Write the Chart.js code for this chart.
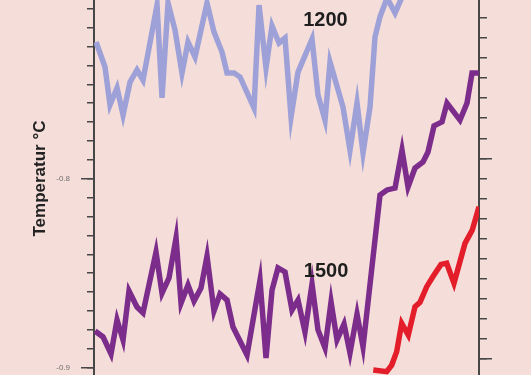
<!DOCTYPE html>
<html>
<head>
<meta charset="utf-8">
<script src="https://cdn.jsdelivr.net/npm/chart.js@4"></script>
<style>
  html, body { margin: 0; padding: 0; width: 531px; height: 375px; overflow: hidden; background: #f5ded9; }
  /* the picture is a crop of a taller chart, so the canvas runs a little past the top edge */
  #wrap { position: absolute; left: 0; top: -18px; width: 531px; height: 393px; }
</style>
</head>
<body>
<div id="wrap"><canvas id="chart"></canvas></div>
<script>
//series "1200" (light violet)
const x1200 = [0.16, 1.56, 2.34, 3.44, 4.38, 5.47, 6.56, 7.5, 9.69, 10.47, 11.41, 12.5, 13.59, 14.53, 15.63,
  17.5, 18.59, 19.84, 20.63, 21.72, 22.66, 24.84, 25.63, 26.72, 27.66, 28.75, 29.69, 30.63, 31.72, 33.91,
  34.84, 35.94, 36.72, 38.75, 39.84, 40.94, 41.88, 42.97, 43.75, 44.53, 45.63, 46.88, 47.97, 49.06];
const temp1200 = [-0.7276, -0.7408, -0.7609, -0.7519, -0.7662, -0.7488, -0.7424, -0.7477, -0.7080, -0.7572,
  -0.7069, -0.7212, -0.7440, -0.7276, -0.7355, -0.7069, -0.7223, -0.7329, -0.7440, -0.7440, -0.7461,
  -0.7625, -0.7080, -0.7413, -0.7191, -0.7281, -0.7255, -0.7673, -0.7435, -0.7260, -0.7556, -0.7689,
  -0.7382, -0.7620, -0.7848, -0.7599, -0.7863, -0.7620, -0.7249, -0.7143, -0.7043, -0.7122, -0.7038, -0.7011];

//series "1500" (purple)
const x1500 = [0, 1.25, 2.5, 3.44, 4.38, 5.31, 6.56, 7.5, 9.53, 10.47, 11.56, 12.66, 13.44, 14.53, 15.47,
  16.56, 17.5, 18.59, 19.53, 20.63, 21.56, 23.75, 25.78, 26.72, 27.66, 28.59, 29.69, 30.78, 31.72, 32.81,
  33.91, 34.84, 35.94, 36.88, 37.81, 38.91, 39.84, 40.94, 41.88, 44.53, 45.63, 46.88, 47.97, 48.91, 50.0,
  51.25, 52.03, 52.97, 54.22, 55.0, 57.03, 58.13, 58.91, 60];
const temp1500 = [-0.8806, -0.8837, -0.8927, -0.8747, -0.8853, -0.8594, -0.8679, -0.8710, -0.8388, -0.8605,
  -0.8525, -0.8313, -0.8658, -0.8562, -0.8647, -0.8578, -0.8409, -0.8700, -0.8610, -0.8642, -0.8785,
  -0.8933, -0.8536, -0.8949, -0.8589, -0.8472, -0.8493, -0.8695, -0.8642, -0.8811, -0.8557, -0.8800,
  -0.8896, -0.8652, -0.8853, -0.8769, -0.8922, -0.8716, -0.8890, -0.8086, -0.8059, -0.8049, -0.7848,
  -0.8043, -0.7943, -0.7911, -0.7858, -0.7720, -0.7699, -0.7599, -0.7689, -0.7599, -0.7440, -0.7440];

//red series
const xRed = [43.48, 45.58, 46.36, 47.14, 47.92, 48.95, 50.0, 50.78, 51.83, 52.86, 54.06, 54.95, 56.09,
  57.81, 58.95, 60];
const tempRed = [-0.9012, -0.9021, -0.8986, -0.8915, -0.8765, -0.8827, -0.8677, -0.8654, -0.8571, -0.8515,
  -0.8453, -0.8447, -0.8553, -0.8342, -0.8271, -0.8148];

//text written inside the plot
const labelText = ['1200', '1500'];
const labelX = [36.0, 36.1];
const labelY = [-0.7161, -0.8492];

//visible value range of both vertical axes
const leftMin = -0.903865, leftMax = -0.695818;
const rightMin = -0.10813, rightMax = 0.08797;

const axisColor = '#474747';
const fontFamily = '"Liberation Sans", Arial, sans-serif';

function toPoints(xs, ys) {
  return xs.map((x, i) => ({ x: x, y: ys[i] }));
}

//force a fixed axis box width and drop the label padding Chart.js adds
function fixWidth(w) {
  return function(scale) {
    scale.width = w;
    scale.paddingTop = 0;
    scale.paddingBottom = 0;
  };
}

//draws the "1200" / "1500" captions at data positions
const captionPlugin = {
  id: 'captions',
  afterDatasetsDraw(chart) {
    const ctx = chart.ctx;
    const xs = chart.scales.x, ys = chart.scales.y;
    ctx.save();
    ctx.font = 'bold 20px ' + fontFamily;
    ctx.fillStyle = '#1e1e1e';
    ctx.textAlign = 'center';
    ctx.textBaseline = 'middle';
    labelText.forEach((t, i) => {
      ctx.fillText(t, xs.getPixelForValue(labelX[i]), ys.getPixelForValue(labelY[i]));
    });
    ctx.restore();
  }
};

function lineSet(label, xs, ys, color) {
  return {
    label: label, data: toPoints(xs, ys), borderColor: color, backgroundColor: color,
    borderWidth: 5.5, pointRadius: 0, tension: 0, fill: false,
    borderJoinStyle: 'miter', borderCapStyle: 'butt', yAxisID: 'y'
  };
}

const ctx = document.getElementById('chart').getContext('2d');
new Chart(ctx, {
  type: 'line',
  data: {
    datasets: [
      lineSet('1200', x1200, temp1200, '#9ea1d7'),
      lineSet('1500', x1500, temp1500, '#7c2d8c'),
      lineSet('red', xRed, tempRed, '#e31d2a')
    ]
  },
  options: {
    responsive: true,
    maintainAspectRatio: false,
    animation: false,
    layout: { padding: 0 },
    plugins: { legend: { display: false }, tooltip: { enabled: false } },
    scales: {
      x: { type: 'linear', display: false, min: -0.16, max: 60 },
      //left minor ticks
      y: {
        position: 'left', weight: 0, min: leftMin, max: leftMax,
        ticks: { display: false, stepSize: 0.01, includeBounds: false, autoSkip: false },
        grid: { drawOnChartArea: false, tickLength: 7, color: axisColor, lineWidth: 1.5 },
        border: { display: false },
        afterFit: fixWidth(0)
      },
      //left major ticks, labels and title
      yMajor: {
        position: 'left', weight: 1, min: leftMin, max: leftMax,
        ticks: {
          stepSize: 0.1, includeBounds: false, autoSkip: false, padding: 11,
          color: '#6e6e6e', font: { family: fontFamily, size: 8 },
          callback: v => v.toFixed(1)
        },
        grid: { drawOnChartArea: false, tickLength: 13, color: axisColor, lineWidth: 1.5 },
        border: { display: true, color: axisColor, width: 2 },
        title: {
          display: true, text: 'Temperatur °C', color: '#222',
          font: { family: fontFamily, size: 17, weight: 'bold' },
          padding: { top: 30, bottom: 0 }
        },
        afterFit: fixWidth(94)
      },
      //right minor ticks
      r: {
        position: 'right', weight: 0, min: rightMin, max: rightMax,
        ticks: { display: false, stepSize: 0.01, includeBounds: false, autoSkip: false },
        grid: { drawOnChartArea: false, tickLength: 8, color: axisColor, lineWidth: 1.5 },
        border: { display: false },
        afterFit: fixWidth(0)
      },
      //right major ticks
      rMajor: {
        position: 'right', weight: 1, min: rightMin, max: rightMax,
        ticks: { display: false, stepSize: 0.1, includeBounds: false, autoSkip: false },
        grid: { drawOnChartArea: false, tickLength: 13, color: axisColor, lineWidth: 1.5 },
        border: { display: true, color: axisColor, width: 2 },
        afterFit: fixWidth(52)
      }
    }
  },
  plugins: [captionPlugin]
});
</script>
</body>
</html>
